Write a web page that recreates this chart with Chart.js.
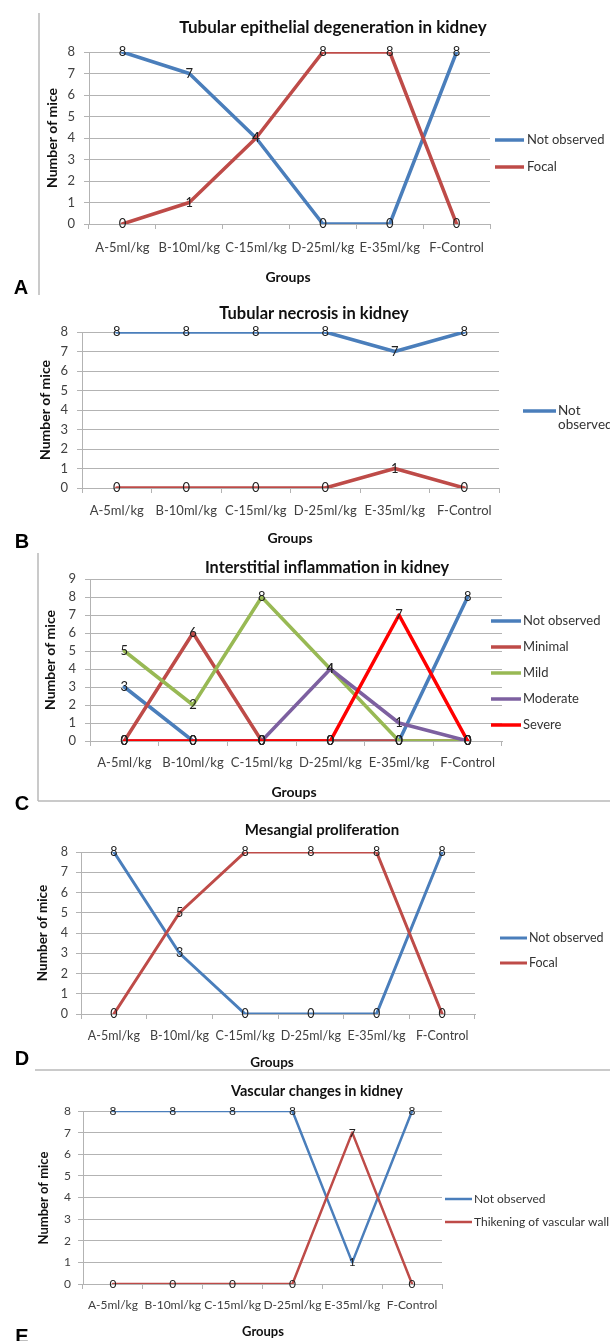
<!DOCTYPE html>
<html lang="en">
<head>
<meta charset="UTF-8">
<title>Kidney histopathology - number of mice per group</title>
<script src="https://cdn.jsdelivr.net/npm/chart.js"></script>
<style>
  html, body { margin: 0; padding: 0; background: #fff; }
  #page { position: relative; width: 610px; height: 1341px; overflow: hidden; }
  #page canvas { position: absolute; left: 0; top: 0; }
</style>
</head>
<body>
<div id="page">
  <canvas id="chartA" width="610" height="1341"></canvas>
  <canvas id="chartB" width="610" height="1341"></canvas>
  <canvas id="chartC" width="610" height="1341"></canvas>
  <canvas id="chartD" width="610" height="1341"></canvas>
  <canvas id="chartE" width="610" height="1341"></canvas>
</div>

<script>
// categories
const groups = ["A-5ml/kg", "B-10ml/kg", "C-15ml/kg", "D-25ml/kg", "E-35ml/kg", "F-Control"];

// A - tubular epithelial degeneration
const tubDegNotObserved = [8, 7, 4, 0, 0, 8];
const tubDegFocal = [0, 1, 4, 8, 8, 0];

// B - tubular necrosis
const tubNecNotObserved = [8, 8, 8, 8, 7, 8];
const tubNecFocal = [0, 0, 0, 0, 1, 0];

// C - interstitial inflammation
const inflNotObserved = [3, 0, 0, 0, 0, 8];
const inflMinimal = [0, 6, 0, 0, 0, 0];
const inflMild = [5, 2, 8, 4, 0, 0];
const inflModerate = [0, 0, 0, 4, 1, 0];
const inflSevere = [0, 0, 0, 0, 7, 0];

// D - mesangial proliferation
const mesNotObserved = [8, 3, 0, 0, 0, 8];
const mesFocal = [0, 5, 8, 8, 8, 0];

// E - vascular changes
const vasNotObserved = [8, 8, 8, 8, 1, 8];
const vasThickening = [0, 0, 0, 0, 7, 0];

// y axis tops (ticks run 0..max in steps of 1)
const yMaxA = 8, yMaxB = 8, yMaxC = 9, yMaxD = 8, yMaxE = 8;

const W = 610, H = 1341;
const FONT = 'Lato, "Open Sans", sans-serif';
const GRID = "#b3b3b3";
const BLUE = "#4a7ebb", RED = "#be4b48", GREEN = "#98b954", PURPLE = "#7d60a0", SEVERE = "#ff0000";

Chart.defaults.font.family = FONT;
Chart.defaults.color = "#404040";

// value labels centred on each point, like the Excel originals
const pointLabels = {
    id: "pointLabels",
    afterDatasetsDraw(chart) {
        const ctx = chart.ctx;
        const size = chart.options.scales.y.ticks.font.size;
        ctx.save();
        ctx.font = size + "px " + FONT;
        ctx.fillStyle = "#222";
        ctx.textAlign = "center";
        ctx.textBaseline = "middle";
        chart.data.datasets.forEach((ds, i) => {
            chart.getDatasetMeta(i).data.forEach((pt, j) => {
                ctx.fillText(String(ds.data[j]), pt.x, pt.y);
            });
        });
        ctx.restore();
    }
};

// titles, panel letter, legend and frame lines
function decor(p) {
    return {
        id: "decor",
        afterDraw(chart) {
            const ctx = chart.ctx;
            ctx.save();
            ctx.textBaseline = "middle";

            ctx.fillStyle = "#111";
            ctx.textAlign = "center";
            ctx.font = "bold " + p.titleSize + "px " + FONT;
            ctx.fillText(p.title, p.titleAt[0], p.titleAt[1]);

            ctx.font = "bold " + p.axisSize + "px " + FONT;
            ctx.fillText("Groups", p.groupsAt[0], p.groupsAt[1]);

            ctx.save();
            ctx.translate(p.yTitleAt[0], p.yTitleAt[1]);
            ctx.rotate(-Math.PI / 2);
            ctx.fillText("Number of mice", 0, 0);
            ctx.restore();

            ctx.fillStyle = "#000";
            ctx.font = 'bold 20px "Liberation Sans", Arial, sans-serif';
            ctx.textBaseline = "top";
            ctx.fillText(p.letter, p.letterAt[0], p.letterAt[1]);

            // legend
            ctx.textAlign = "left";
            ctx.textBaseline = "middle";
            ctx.font = p.legendSize + "px " + FONT;
            p.legend.forEach((item, k) => {
                const y = p.legendY[k];
                const ds = chart.data.datasets[item.index];
                ctx.strokeStyle = ds.borderColor;
                ctx.lineWidth = p.lineWidth;
                ctx.beginPath();
                ctx.moveTo(p.legendLine[0], y);
                ctx.lineTo(p.legendLine[1], y);
                ctx.stroke();
                ctx.fillStyle = "#333";
                item.text.forEach((t, r) => ctx.fillText(t, p.legendText, y + r * 14));
            });

            // frame lines around some panels
            ctx.strokeStyle = "#b8b8b8";
            ctx.lineWidth = 1.5;
            (p.frame || []).forEach(seg => {
                ctx.beginPath();
                ctx.moveTo(seg[0], seg[1]);
                ctx.lineTo(seg[2], seg[3]);
                ctx.stroke();
            });
            ctx.restore();
        }
    };
}

function makeChart(id, p) {
    const [left, top, right, bottom] = p.area;
    return new Chart(document.getElementById(id), {
        type: "line",
        data: {
            labels: groups,
            datasets: p.series.map((s, i) => ({
                label: s.name,
                data: s.data,
                borderColor: s.color,
                backgroundColor: s.color,
                borderWidth: p.lineWidth,
                borderJoinStyle: "round",
                borderCapStyle: "round",
                pointRadius: 0,
                tension: 0,
                fill: false,
                order: -i
            }))
        },
        options: {
            responsive: false,
            animation: false,
            events: [],
            layout: {
                padding: { left: 0, top: top, right: W - right, bottom: 0 }
            },
            plugins: {
                legend: { display: false },
                tooltip: { enabled: false },
                title: { display: false }
            },
            scales: {
                x: {
                    offset: true,
                    grid: { offset: true, drawOnChartArea: false, color: GRID, tickLength: 5 },
                    border: { color: GRID },
                    ticks: { padding: p.xPad, autoSkip: false, maxRotation: 0, font: { size: p.fontSize } },
                    afterFit: s => { s.height = H - bottom; }
                },
                y: {
                    min: 0,
                    max: p.yMax,
                    grid: { color: GRID, tickLength: 5 },
                    border: { color: GRID },
                    ticks: { stepSize: 1, autoSkip: false, padding: p.yPad, font: { size: p.fontSize } },
                    afterFit: s => { s.width = left; }
                }
            }
        },
        plugins: [pointLabels, decor(p)]
    });
}

makeChart("chartA", {
    title: "Tubular epithelial degeneration in kidney", titleSize: 17,
    series: [
        { name: "Not observed", data: tubDegNotObserved, color: BLUE },
        { name: "Focal", data: tubDegFocal, color: RED }
    ],
    yMax: yMaxA, lineWidth: 3.5, fontSize: 13, legendSize: 13, axisSize: 14, xPad: 11, yPad: 9,
    area: [89, 52, 490, 224],
    titleAt: [333, 28], groupsAt: [288, 277], yTitleAt: [52, 138],
    letter: "A", letterAt: [21, 278],
    legend: [{ index: 0, text: ["Not observed"] }, { index: 1, text: ["Focal"] }],
    legendY: [140, 167], legendLine: [495, 524], legendText: 527,
    frame: [[39, 13, 39, 295]]
});

makeChart("chartB", {
    title: "Tubular necrosis in kidney", titleSize: 16.5,
    series: [
        { name: "Not observed", data: tubNecNotObserved, color: BLUE },
        { name: "Focal", data: tubNecFocal, color: RED }
    ],
    yMax: yMaxB, lineWidth: 3.5, fontSize: 13, legendSize: 13.5, axisSize: 14, xPad: 10, yPad: 9,
    area: [82, 332, 499, 488],
    titleAt: [314, 314], groupsAt: [290, 538], yTitleAt: [45, 410],
    letter: "B", letterAt: [22, 532],
    legend: [{ index: 0, text: ["Not", "observed"] }],
    legendY: [411], legendLine: [523, 556], legendText: 558
});

makeChart("chartC", {
    title: "Interstitial inflammation in kidney", titleSize: 16.3,
    series: [
        { name: "Not observed", data: inflNotObserved, color: BLUE },
        { name: "Minimal", data: inflMinimal, color: RED },
        { name: "Mild", data: inflMild, color: GREEN },
        { name: "Moderate", data: inflModerate, color: PURPLE },
        { name: "Severe", data: inflSevere, color: SEVERE }
    ],
    yMax: yMaxC, lineWidth: 3.5, fontSize: 13, legendSize: 13, axisSize: 14, xPad: 9, yPad: 9,
    area: [90, 579, 502, 741],
    titleAt: [327, 568], groupsAt: [294, 792], yTitleAt: [50, 660],
    letter: "C", letterAt: [22, 794],
    legend: [
        { index: 0, text: ["Not observed"] }, { index: 1, text: ["Minimal"] },
        { index: 2, text: ["Mild"] }, { index: 3, text: ["Moderate"] }, { index: 4, text: ["Severe"] }
    ],
    legendY: [621, 647, 673, 699, 725], legendLine: [491, 521], legendText: 523,
    frame: [[38, 553, 38, 801], [38, 801, 610, 801]]
});

makeChart("chartD", {
    title: "Mesangial proliferation", titleSize: 15,
    series: [
        { name: "Not observed", data: mesNotObserved, color: BLUE },
        { name: "Focal", data: mesFocal, color: RED }
    ],
    yMax: yMaxD, lineWidth: 3, fontSize: 12.5, legendSize: 12.5, axisSize: 13.5, xPad: 9, yPad: 8,
    area: [81, 852, 475, 1014],
    titleAt: [322, 830], groupsAt: [272, 1063], yTitleAt: [43, 933],
    letter: "D", letterAt: [22, 1049],
    legend: [{ index: 0, text: ["Not observed"] }, { index: 1, text: ["Focal"] }],
    legendY: [938, 963], legendLine: [500, 527], legendText: 529
});

makeChart("chartE", {
    title: "Vascular changes in kidney", titleSize: 14.5,
    series: [
        { name: "Not observed", data: vasNotObserved, color: BLUE },
        { name: "Thikening of vascular wall", data: vasThickening, color: RED }
    ],
    yMax: yMaxE, lineWidth: 2.5, fontSize: 12, legendSize: 12, axisSize: 13, xPad: 9, yPad: 7,
    area: [83, 1111, 442, 1284],
    titleAt: [317, 1091], groupsAt: [263, 1332], yTitleAt: [44, 1198],
    letter: "E", letterAt: [22, 1327],
    legend: [{ index: 0, text: ["Not observed"] }, { index: 1, text: ["Thikening of vascular wall"] }],
    legendY: [1199, 1222], legendLine: [445, 472], legendText: 474,
    frame: [[35, 1070, 610, 1070]]
});
</script>
</body>
</html>
